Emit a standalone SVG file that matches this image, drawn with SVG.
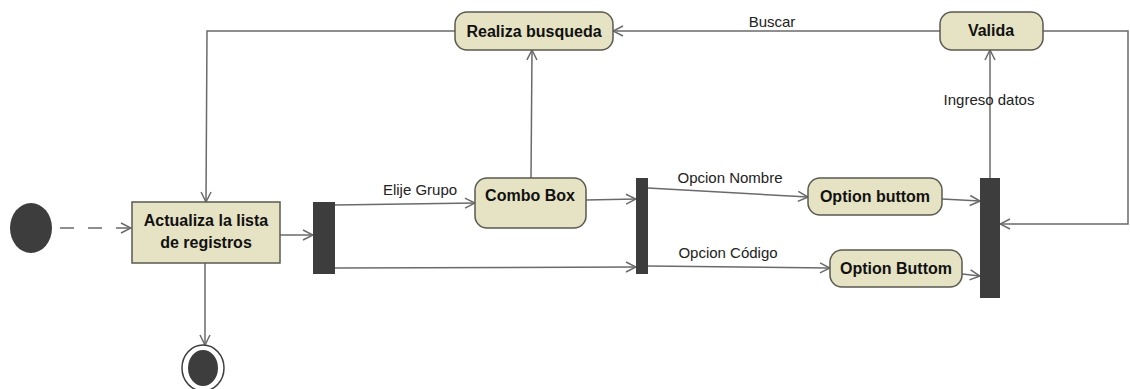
<svg xmlns="http://www.w3.org/2000/svg" width="1130" height="389" viewBox="0 0 1130 389">
<defs>
<style>
.node{fill:#e6e3c4;stroke:#5a5a50;stroke-width:1.5}
.bar{fill:#3d3d3d}
.b{font-family:"Liberation Sans",Arial,sans-serif;font-weight:bold;font-size:16px;fill:#111;text-anchor:middle}
.l{font-family:"Liberation Sans",Arial,sans-serif;font-size:15px;fill:#222;text-anchor:middle}
.c{fill:none;stroke:#6a6a6a;stroke-width:1.5}
</style>
<marker id="a" viewBox="0 0 12 12" refX="11" refY="6" markerWidth="12" markerHeight="12" markerUnits="userSpaceOnUse" orient="auto">
<polyline points="1,1 11,6 1,11" fill="none" stroke="#6a6a6a" stroke-width="1.5"/>
</marker>
</defs>
<rect width="1130" height="389" fill="#fff"/>
<g id="connectors">
<line class="c" x1="60" y1="228" x2="131" y2="228" stroke-dasharray="14,14" marker-end="url(#a)"/>
<line class="c" x1="280" y1="235" x2="313" y2="235" marker-end="url(#a)"/>
<line class="c" x1="205" y1="263" x2="205" y2="345" marker-end="url(#a)"/>
<line class="c" x1="335" y1="205" x2="475" y2="203" marker-end="url(#a)"/>
<line class="c" x1="335" y1="268" x2="636" y2="267" marker-end="url(#a)"/>
<line class="c" x1="586" y1="200" x2="636" y2="199" marker-end="url(#a)"/>
<line class="c" x1="531" y1="178" x2="532" y2="50" marker-end="url(#a)"/>
<polyline class="c" points="455,31 207,31 206,202" marker-end="url(#a)"/>
<line class="c" x1="940" y1="31" x2="613" y2="31" marker-end="url(#a)"/>
<polyline class="c" points="1043,31 1128,31 1128,224 1000,224" marker-end="url(#a)"/>
<line class="c" x1="990" y1="178" x2="990" y2="50" marker-end="url(#a)"/>
<line class="c" x1="648" y1="188" x2="808" y2="197" marker-end="url(#a)"/>
<line class="c" x1="648" y1="266" x2="830" y2="268" marker-end="url(#a)"/>
<line class="c" x1="942" y1="199" x2="980" y2="201" marker-end="url(#a)"/>
<line class="c" x1="962" y1="274" x2="980" y2="276" marker-end="url(#a)"/>
<text class="l" x="420" y="195">Elije Grupo</text>
<text class="l" x="772" y="27">Buscar</text>
<text class="l" x="730" y="183">Opcion Nombre</text>
<text class="l" x="728" y="258">Opcion Código</text>
<text class="l" x="989" y="105">Ingreso datos</text>
</g>
<g id="initial"><ellipse cx="31" cy="228" rx="21" ry="25" fill="#3d3d3d"/></g>
<g id="final"><ellipse cx="203" cy="368" rx="21" ry="23" fill="#fff" stroke="#3d3d3d" stroke-width="1.5"/><ellipse cx="203" cy="368" rx="15" ry="18" fill="#3d3d3d"/></g>
<g id="actualiza"><rect class="node" x="132" y="202" width="148" height="61"/><text class="b" x="206" y="226">Actualiza la lista</text><text class="b" x="206" y="248">de registros</text></g>
<g id="fork1"><rect class="bar" x="313" y="202" width="22" height="72"/></g>
<g id="combo"><rect class="node" x="475" y="178" width="111" height="50" rx="12"/><text class="b" x="530" y="201">Combo Box</text></g>
<g id="fork2"><rect class="bar" x="636" y="178" width="12" height="96"/></g>
<g id="realiza"><rect class="node" x="455" y="12" width="158" height="38" rx="12"/><text class="b" x="534" y="37">Realiza busqueda</text></g>
<g id="valida"><rect class="node" x="940" y="12" width="103" height="38" rx="12"/><text class="b" x="991" y="36">Valida</text></g>
<g id="option1"><rect class="node" x="808" y="178" width="134" height="37" rx="12"/><text class="b" x="875" y="202">Option buttom</text></g>
<g id="option2"><rect class="node" x="830" y="250" width="132" height="37" rx="12"/><text class="b" x="896" y="274">Option Buttom</text></g>
<g id="join"><rect class="bar" x="980" y="178" width="20" height="120"/></g>
</svg>
